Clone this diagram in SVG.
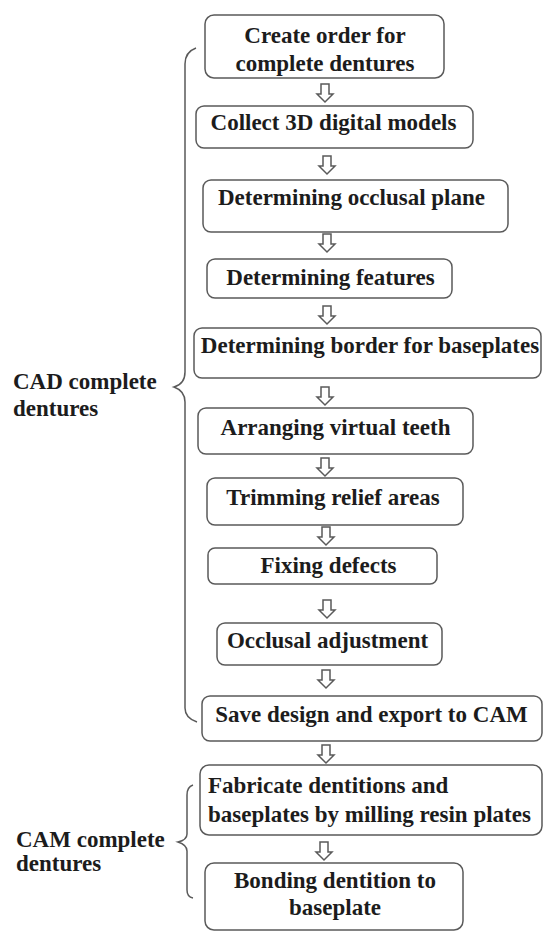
<svg xmlns="http://www.w3.org/2000/svg" xmlns:xlink="http://www.w3.org/1999/xlink" width="544" height="932" viewBox="0 0 544 932">
<style>
.box{fill:#fff;stroke:#5a5a5a;stroke-width:1.5}
.t{font-family:"Liberation Serif","Times New Roman",serif;font-weight:bold;font-size:23px;fill:#1c1c1c}
.c{text-anchor:middle}
.br{fill:none;stroke:#5a5a5a;stroke-width:1.5}
.arr{fill:#fff;stroke:#5a5a5a;stroke-width:1.5;stroke-linejoin:miter}
</style>
<defs>
<path id="ar" class="arr" d="M-4,0 H4 V10 H8 L0,18 L-8,10 H-4 Z"/>
</defs>
<rect width="544" height="932" fill="#fff"/>
<g id="connectors">
<use xlink:href="#ar" href="#ar" x="325" y="84"/>
<use xlink:href="#ar" href="#ar" x="327" y="156"/>
<use xlink:href="#ar" href="#ar" x="327" y="234"/>
<use xlink:href="#ar" href="#ar" x="327" y="306"/>
<use xlink:href="#ar" href="#ar" x="325" y="387"/>
<use xlink:href="#ar" href="#ar" x="325" y="458"/>
<use xlink:href="#ar" href="#ar" x="326" y="527"/>
<use xlink:href="#ar" href="#ar" x="327" y="600"/>
<use xlink:href="#ar" href="#ar" x="326" y="670"/>
<use xlink:href="#ar" href="#ar" x="326" y="745"/>
<use xlink:href="#ar" href="#ar" x="324" y="842"/>
</g>
<g id="cad-group">
<path class="br" d="M196,48 Q185,52 185,64 V372 Q185,384 174,387 Q185,391 185,402 V708 Q185,718 197,722"/>
<text class="t" x="13" y="389">CAD complete</text>
<text class="t" x="13" y="416">dentures</text>
</g>
<g id="cam-group">
<path class="br" d="M193,785 Q187,787 187,795 V834 Q187,840 178,842 Q187,845 187,851 V890 Q187,897 193,898"/>
<text class="t" x="16" y="847">CAM complete</text>
<text class="t" x="16" y="871">dentures</text>
</g>
<g id="n1"><rect class="box" x="205" y="15" width="239" height="63" rx="9"/>
<text class="t c" x="325" y="43">Create order for</text><text class="t c" x="325" y="71">complete dentures</text></g>
<g id="n2"><rect class="box" x="196" y="106" width="277" height="42" rx="8"/>
<text class="t c" x="333.5" y="130">Collect 3D digital models</text></g>
<g id="n3"><rect class="box" x="203" y="180" width="305" height="52" rx="8"/>
<text class="t c" x="351.5" y="205">Determining occlusal plane</text></g>
<g id="n4"><rect class="box" x="207" y="259" width="245" height="39" rx="8"/>
<text class="t c" x="330.5" y="285">Determining features</text></g>
<g id="n5"><rect class="box" x="194" y="328" width="347" height="50" rx="8"/>
<text class="t c" x="370" y="353">Determining border for baseplates</text></g>
<g id="n6"><rect class="box" x="198" y="408" width="275" height="46" rx="8"/>
<text class="t c" x="335.5" y="435">Arranging virtual teeth</text></g>
<g id="n7"><rect class="box" x="207" y="478" width="256" height="47" rx="8"/>
<text class="t c" x="333" y="505">Trimming relief areas</text></g>
<g id="n8"><rect class="box" x="208" y="548" width="229" height="36" rx="7"/>
<text class="t c" x="328.5" y="573">Fixing defects</text></g>
<g id="n9"><rect class="box" x="217" y="623" width="225" height="42" rx="8"/>
<text class="t c" x="327.5" y="648">Occlusal adjustment</text></g>
<g id="n10"><rect class="box" x="202" y="696" width="340" height="45" rx="8"/>
<text class="t c" x="371.5" y="722">Save design and export to CAM</text></g>
<g id="n11"><rect class="box" x="200" y="765" width="342" height="70" rx="9"/>
<text class="t" x="208" y="793">Fabricate dentitions and</text><text class="t" x="208" y="822">baseplates by milling resin plates</text></g>
<g id="n12"><rect class="box" x="205" y="863" width="258" height="67" rx="9"/>
<text class="t c" x="335" y="888">Bonding dentition to</text><text class="t c" x="335" y="915">baseplate</text></g>
</svg>
